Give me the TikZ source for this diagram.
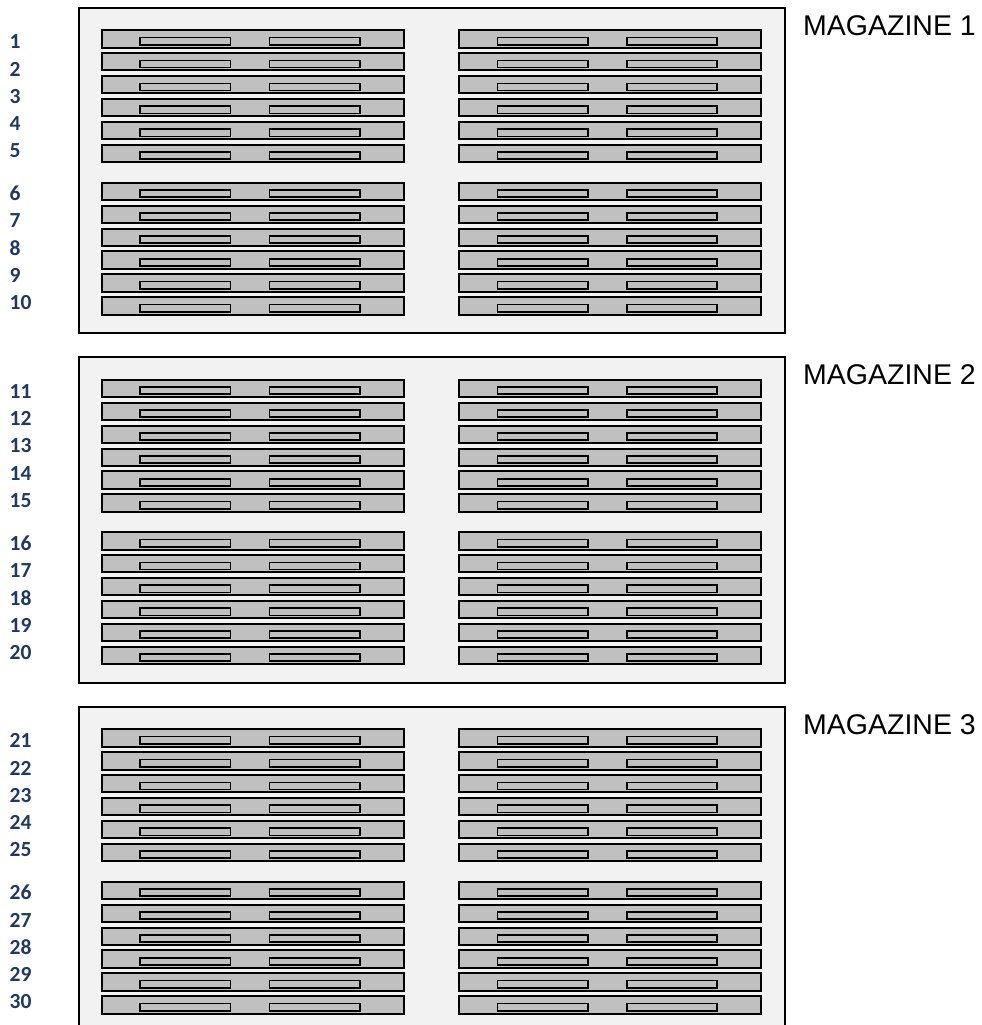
\documentclass[tikz,border=0pt]{standalone}
\usepackage{fontspec}
\setmainfont{Liberation Sans}
\newfontfamily\labfont{Carlito}
\definecolor{boxfill}{HTML}{F2F2F2}
\definecolor{trayfill}{HTML}{C0C0C0}
\definecolor{labblue}{HTML}{203864}
\begin{document}
\begin{tikzpicture}[x=1pt,y=-1pt,
 magbox/.style={draw=black, line width=1.8pt, fill=boxfill, anchor=north west, inner sep=0pt, minimum width=706.5pt, minimum height=325.5pt},
 traybox/.style={draw=black, line width=2pt, fill=trayfill, anchor=north west, inner sep=0pt, minimum width=302pt, minimum height=17.3pt},
 slotbox/.style={draw=black, line width=1.7pt, fill=trayfill, anchor=north west, inner sep=0pt, minimum width=90.5pt, minimum height=7.2pt},
 numlab/.style={font=\labfont\bfseries\fontsize{21.5}{21.5}\selectfont, text=labblue, anchor=west, inner sep=0pt},
 magtitle/.style={font=\fontsize{28.5}{28.5}\selectfont, anchor=west, inner sep=0pt}]
\useasboundingbox (0,0) rectangle (982,1025);
\clip (0,0) rectangle (982,1025);
\foreach \m in {0,1,2}{
  \pgfmathsetmacro\T{6+349.5*\m}
  \pgfmathtruncatemacro\n{\m+1}
  \node[magbox] (mag\m) at (77.9,\T+0.9) {};
  \node[magtitle] (title\m) at (803,\T+19.5) {MAGAZINE \n};
  \foreach \g/\G in {0/22.3,1/174.7}{
    \foreach \c/\X in {0/100,1/457.3}{
      \foreach \k in {0,...,5}{
        \pgfmathsetmacro\t{\T+\G+22.9*\k}
        \node[traybox] (tray-\m-\g-\c-\k) at (\X+1,\t+1) {};
        \node[slotbox] (slot-\m-\g-\c-\k-a) at (\X+39.2,\t+8.4) {};
        \node[slotbox] (slot-\m-\g-\c-\k-b) at (\X+168.6,\t+8.4) {};
      }
    }
  }
  \foreach \i in {1,...,5}{
    \pgfmathtruncatemacro\v{10*\m+\i}
    \node[numlab] (lab-\v) at (9.5,\T+35.7+27.3*\i-27.3) {\v};
  }
  \foreach \i in {6,...,10}{
    \pgfmathtruncatemacro\v{10*\m+\i}
    \node[numlab] (lab-\v) at (9.5,\T+187.7+27.3*\i-163.8) {\v};
  }
}
\end{tikzpicture}
\end{document}
